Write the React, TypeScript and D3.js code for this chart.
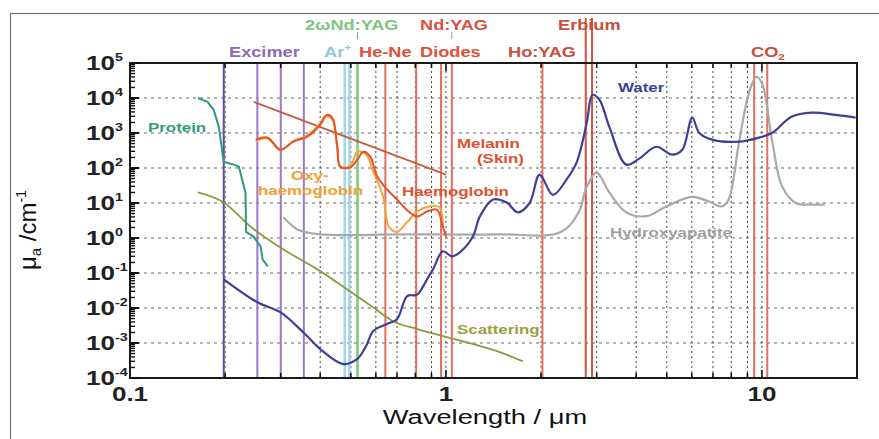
import React, { useEffect, useRef } from 'react'
import * as d3 from 'd3'

// wavelength (µm), absorption coefficient (cm^-1)
const water: [number, number][] = [
  [0.198, 0.066], [0.253, 0.0146], [0.299, 0.0076], [0.354, 0.002], [0.40, 0.00067],
  [0.473, 0.00025], [0.524, 0.00035], [0.56, 0.00085], [0.589, 0.0022], [0.651, 0.0035],
  [0.70, 0.0048], [0.754, 0.022], [0.81, 0.024], [0.871, 0.066], [0.91, 0.127],
  [0.978, 0.417], [1.044, 0.30], [1.107, 0.39], [1.217, 1.1], [1.28, 4.1], [1.41, 12.6],
  [1.557, 10.3], [1.687, 5.4], [1.84, 10], [1.98, 65], [2.18, 17], [2.41, 47], [2.59, 142],
  [2.79, 1950], [2.91, 12300], [3.06, 8900], [3.29, 1500], [3.72, 125], [4.09, 185],
  [4.63, 405], [5.2, 240], [5.6, 333], [6.02, 2750], [6.33, 1020], [6.95, 645], [8.46, 565],
  [9.8, 740], [10.8, 1020], [12.4, 2900], [14.4, 3800], [17.1, 3300], [19.8, 2750],
]

const hydroxyapatite: [number, number][] = [
  [0.306, 3.9], [0.339, 1.76], [0.40, 1.27], [0.716, 1.27], [1.478, 1.27], [2.3, 1.45],
  [2.63, 5.4], [2.79, 29], [3.0, 74], [3.29, 20], [3.72, 5.4], [4.31, 4.2], [4.98, 8],
  [6.02, 15], [6.8, 11], [7.48, 8], [7.85, 12.6], [8.46, 525], [9.1, 14000], [9.6, 40000],
  [10.0, 27000], [10.8, 525], [11.6, 29], [12.8, 10], [14.4, 9], [15.8, 9],
]

const protein: [number, number][] = [
  [0.164, 10000], [0.176, 7800], [0.184, 4600], [0.191, 1500], [0.198, 150], [0.213, 125],
  [0.221, 110], [0.232, 20], [0.233, 1.5], [0.246, 1.1], [0.259, 0.57], [0.263, 0.24],
  [0.273, 0.155],
]

const scattering: [number, number][] = [
  [0.164, 20], [0.198, 10.3], [0.241, 2.1], [0.306, 0.47], [0.392, 0.127], [0.487, 0.034],
  [0.588, 0.0105], [0.68, 0.0042], [0.81, 0.0025], [1.0, 0.0015], [1.22, 0.00093],
  [1.48, 0.00055], [1.75, 0.0003],
]

const melanin: [number, number][] = [[0.246, 7800], [1.0, 65]]

const haemoglobin: [number, number][] = [
  [0.25, 645], [0.273, 735], [0.299, 334], [0.329, 565], [0.364, 785], [0.40, 1720],
  [0.42, 3300], [0.437, 2730], [0.453, 405], [0.463, 110], [0.498, 103], [0.524, 174],
  [0.548, 293], [0.576, 211], [0.606, 57], [0.652, 24], [0.70, 12.6], [0.75, 6.5],
  [0.81, 4.1], [0.87, 5.7], [0.935, 6.5], [0.978, 2.1], [1.0, 1.1],
]

const oxyHaemoglobin: [number, number][] = [
  [0.25, 600], [0.273, 700], [0.299, 320], [0.329, 600], [0.364, 850], [0.40, 1900],
  [0.415, 3100], [0.437, 2400], [0.453, 350], [0.463, 103], [0.50, 120], [0.524, 293],
  [0.56, 240], [0.588, 80], [0.633, 15], [0.66, 2.1], [0.70, 1.5], [0.75, 2.7], [0.81, 5.7],
  [0.89, 8.1], [0.955, 7.5], [0.978, 2.1],
]

// laser lines (µm)
const excimerLines = [0.198, 0.253, 0.30, 0.355]
const argonLines = [0.478, 0.495]
const ndYag2Lines = [0.525]
const redLaserLines = [0.643, 0.805, 0.965, 1.044, 2.02]
const erbiumLines = [2.77, 2.9]
const co2Lines = [9.45, 10.4]

const yDecades = [-4, -3, -2, -1, 0, 1, 2, 3, 4, 5]
const xTickLabels = [0.1, 1, 10]

const W = 879
const H = 439
const SX = 1.3

const App = () => {
  const ref = useRef<SVGSVGElement>(null)

  useEffect(() => {
    const svg = d3.select(ref.current)
    svg.selectAll('*').remove()

    const x = d3.scaleLog().domain([0.1, 20]).range([130, 857])
    const y = d3.scaleLog().domain([1e-4, 1e5]).range([378, 63])
    const [x0, x1] = x.range()
    const [y0, y1] = y.range()

    // outer frame
    svg.append('rect')
      .attr('x', 10.5).attr('y', 13.5).attr('width', 900).attr('height', 500)
      .attr('fill', 'none').attr('stroke', '#777').attr('stroke-width', 1.2)

    const minorX: number[] = []
    for (const d of [0.1, 1]) for (let k = 2; k <= 9; k++) minorX.push(k * d)
    minorX.push(1, 10)

    // grid
    svg.append('g').selectAll('line').data(yDecades.slice(1, -1)).join('line')
      .attr('x1', x0).attr('x2', x1)
      .attr('y1', d => y(10 ** d)).attr('y2', d => y(10 ** d))
      .attr('stroke', '#666').attr('stroke-width', 1.2).attr('stroke-dasharray', '3,4')

    svg.append('g').selectAll('line').data(minorX.filter(v => v < 20)).join('line')
      .attr('x1', d => x(d)).attr('x2', d => x(d))
      .attr('y1', y0).attr('y2', y1)
      .attr('stroke', '#444').attr('stroke-width', 1).attr('stroke-dasharray', '2,3')

    // laser lines
    const laser = (vals: number[], color: string, top: number, w = 2) =>
      svg.append('g').selectAll('line').data(vals).join('line')
        .attr('x1', d => x(d)).attr('x2', d => x(d))
        .attr('y1', top).attr('y2', y0)
        .attr('stroke', color).attr('stroke-width', w)

    laser(excimerLines.slice(0, 1), '#5b4f9e', y1)
    laser(excimerLines.slice(1), '#9b78c8', y1)
    laser(argonLines, '#9fd6ec', y1, 2.5)
    laser(ndYag2Lines, '#7cc87c', y1, 2.5)
    laser(redLaserLines, '#e2705c', y1)
    laser(erbiumLines, '#d9503e', 18)
    laser(co2Lines, '#e2705c', y1)

    // curves
    const line = d3.line<[number, number]>().x(d => x(d[0])).y(d => y(d[1]))
    const draw = (data: [number, number][], color: string, curve: d3.CurveFactory, w = 2) =>
      svg.append('path').datum(data)
        .attr('d', line.curve(curve)(data))
        .attr('fill', 'none').attr('stroke', color).attr('stroke-width', w)

    draw(hydroxyapatite, '#a9a9a9', d3.curveCatmullRom.alpha(0.5), 2.2)
    draw(scattering, '#8f9a3e', d3.curveMonotoneX, 1.8)
    draw(melanin, '#c85a3e', d3.curveLinear, 1.8)
    draw(oxyHaemoglobin, '#f2a437', d3.curveCatmullRom.alpha(0.5), 2)
    draw(haemoglobin, '#e8502a', d3.curveCatmullRom.alpha(0.5), 2)
    draw(protein, '#2f9a84', d3.curveLinear, 2)
    draw(water, '#3d3f98', d3.curveCatmullRom.alpha(0.5), 2.2)

    // axis frame and ticks
    svg.append('rect')
      .attr('x', x0).attr('y', y1).attr('width', x1 - x0).attr('height', y0 - y1)
      .attr('fill', 'none').attr('stroke', '#1a1a1a').attr('stroke-width', 2)

    const minorY: number[] = []
    for (const d of yDecades.slice(0, -1)) for (let k = 2; k <= 9; k++) minorY.push(k * 10 ** d)
    svg.append('g').selectAll('line').data(minorY).join('line')
      .attr('x1', x0).attr('x2', x0 + 5).attr('y1', d => y(d)).attr('y2', d => y(d))
      .attr('stroke', '#111').attr('stroke-width', 1.4)
    svg.append('g').selectAll('line').data(yDecades).join('line')
      .attr('x1', x0).attr('x2', x0 + 9).attr('y1', d => y(10 ** d)).attr('y2', d => y(10 ** d))
      .attr('stroke', '#111').attr('stroke-width', 2)
    for (const [ya, dir] of [[y0, -1], [y1, 1]] as [number, number][]) {
      svg.append('g').selectAll('line').data(minorX.filter(v => v < 20)).join('line')
        .attr('x1', d => x(d)).attr('x2', d => x(d))
        .attr('y1', ya).attr('y2', d => ya + dir * (d === 1 || d === 10 ? 8 : 5))
        .attr('stroke', '#111').attr('stroke-width', 1.6)
    }

    const font = 'Liberation Sans, Arial, sans-serif'
    const text = (s: string, tx: number, ty: number, color: string, size: number,
      weight = 'bold', anchor = 'start') =>
      svg.append('text')
        .attr('transform', `translate(${tx},${ty}) scale(${SX},1)`)
        .attr('font-family', font).attr('font-size', size).attr('font-weight', weight)
        .attr('fill', color).attr('text-anchor', anchor).text(s)

    // y tick labels
    yDecades.forEach(d => {
      const t = text('10', 115, y(10 ** d) + 7, '#222', 20, 'bold', 'end')
      svg.append('text')
        .attr('transform', `translate(115,${y(10 ** d) - 2}) scale(${SX},1)`)
        .attr('font-family', font).attr('font-size', 11).attr('font-weight', 'bold')
        .attr('fill', '#222').text(String(d))
      return t
    })

    // x tick labels
    xTickLabels.forEach(v => text(String(v), x(v), 401, '#222', 20, 'bold', 'middle'))

    // axis titles
    text('Wavelength / \u03bcm', 485, 424, '#111', 21, 'normal', 'middle')
    const yt = svg.append('text')
      .attr('transform', 'translate(36,230) rotate(-90)')
      .attr('font-family', font).attr('font-size', 24).attr('fill', '#111')
      .attr('text-anchor', 'middle')
    yt.append('tspan').text('\u03bc')
    yt.append('tspan').attr('font-size', 15).attr('dy', 5).text('a')
    yt.append('tspan').attr('dy', -5).text(' /cm')
    yt.append('tspan').attr('font-size', 14).attr('dy', -10).text('-1')

    // laser labels
    text('2\u03c9Nd:YAG', 305, 30, '#7cc67c', 14)
    text('Nd:YAG', 420, 30, '#d9503e', 14)
    text('Erbium', 558, 30, '#c8503e', 14)
    text('Excimer', 229, 57, '#8a6ab8', 14)
    const ar = text('Ar', 324, 57, '#8cc8e0', 14)
    ar.append('tspan').attr('font-size', 9).attr('dy', -6).text('+')
    text('He-Ne', 359, 57, '#e0503a', 14)
    text('Diodes', 420, 57, '#e0503a', 14)
    text('Ho:YAG', 508, 57, '#c8503e', 14)
    const co = text('CO', 751, 57, '#c8503e', 14)
    co.append('tspan').attr('font-size', 9).attr('dy', 3).text('2')

    svg.append('g').selectAll('line').data([ndYag2Lines[0], redLaserLines[3]]).join('line')
      .attr('x1', d => x(d)).attr('x2', d => x(d)).attr('y1', 32).attr('y2', 39)
      .attr('stroke', '#999').attr('stroke-width', 1)

    // curve labels
    text('Protein', 148, 132, '#2f9a84', 13)
    text('Oxy-', 291, 180, '#f0a030', 13)
    text('haemoglobin', 258, 195, '#f0a030', 13)
    text('Melanin', 457, 148, '#e0502c', 13)
    text('(Skin)', 477, 163, '#e0502c', 13)
    text('Haemoglobin', 402, 196, '#e0502c', 13)
    text('Water', 618, 92, '#3d3f98', 13)
    text('Hydroxyapatite', 610, 237, '#a0a0a0', 13)
    text('Scattering', 457, 334, '#9aa040', 13)
  }, [])

  return (
    <svg ref={ref} width={W} height={H}
      style={{ position: 'absolute', left: 0, top: 0, background: '#fff' }} />
  )
}

export default App
